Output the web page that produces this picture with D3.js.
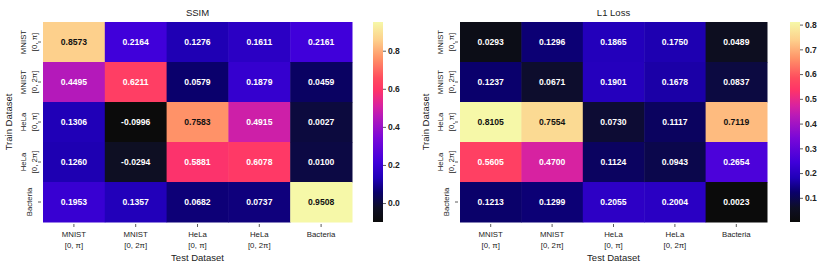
<!DOCTYPE html>
<html lang="en">
<head>
<meta charset="utf-8">
<title>SSIM / L1 Loss heatmaps</title>
<script src="https://d3js.org/d3.v7.min.js"></script>
<style>
  body { margin: 0; background: white; }
  svg { display: block; font-family: "Liberation Sans", Arial, sans-serif; }
</style>
</head>
<body>
<svg id="chart" width="830" height="270"></svg>
<script>
// labels
const trainLabels = [["MNIST", "[0, π]"], ["MNIST", "[0, 2π]"], ["HeLa", "[0, π]"], ["HeLa", "[0, 2π]"], ["Bacteria"]];
const testLabels = [["MNIST", "[0, π]"], ["MNIST", "[0, 2π]"], ["HeLa", "[0, π]"], ["HeLa", "[0, 2π]"], ["Bacteria"]];

// values, rows = train dataset, cols = test dataset
const ssimValues = [
  [0.8573, 0.2164, 0.1276, 0.1611, 0.2161],
  [0.4495, 0.6211, 0.0579, 0.1879, 0.0459],
  [0.1306, -0.0996, 0.7583, 0.4915, 0.0027],
  [0.1260, -0.0294, 0.5881, 0.6078, 0.0100],
  [0.1953, 0.1357, 0.0682, 0.0737, 0.9508]
];
const l1Values = [
  [0.0293, 0.1296, 0.1865, 0.1750, 0.0489],
  [0.1237, 0.0671, 0.1901, 0.1678, 0.0837],
  [0.8105, 0.7554, 0.0730, 0.1117, 0.7119],
  [0.5605, 0.4700, 0.1124, 0.0943, 0.2654],
  [0.1213, 0.1299, 0.2055, 0.2004, 0.0023]
];
const ssimTicks = [0.0, 0.2, 0.4, 0.6, 0.8];
const l1Ticks = [0.1, 0.2, 0.3, 0.4, 0.5, 0.6, 0.7, 0.8];

// colormap picked off the colorbar (position 0..1 -> colour)
const cmapStops = [0, 0.07, 0.1, 0.15, 0.22, 0.3, 0.42, 0.53, 0.58, 0.66, 0.72, 0.82, 0.91, 1];
const cmapColors = ["#0b0b0b", "#0e0f24", "#0c0a40", "#0a006c", "#2000b8", "#4000da", "#7a08d8",
  "#b81ab8", "#d822a0", "#ff3468", "#ff4c5e", "#ff9468", "#fdd08c", "#f6f8a8"];
const cmap = d3.scaleLinear().domain(cmapStops).range(cmapColors).interpolate(d3.interpolateRgb).clamp(true);

const svg = d3.select("#chart");

const textColor = c => {
  const rgb = d3.rgb(c);
  const lin = v => { v /= 255; return v <= 0.03928 ? v / 12.92 : Math.pow((v + 0.055) / 1.055, 2.4); };
  const lum = 0.2126 * lin(rgb.r) + 0.7152 * lin(rgb.g) + 0.0722 * lin(rgb.b);
  return lum > 0.408 ? "#111" : "#fff";
};

let gradId = 0;
function drawHeatmap(opts) {
  const { values, title, ticks, left, right, top, bottom, cbarX } = opts;
  const flat = values.flat();
  const vmin = d3.min(flat), vmax = d3.max(flat);
  const norm = d3.scaleLinear().domain([vmin, vmax]).range([0, 1]);
  const color = v => cmap(norm(v));

  const x = d3.scaleBand().domain(d3.range(testLabels.length)).range([left, right]);
  const y = d3.scaleBand().domain(d3.range(trainLabels.length)).range([top, bottom]);
  const g = svg.append("g");

  const cells = [];
  values.forEach((row, i) => row.forEach((v, j) => cells.push({ i, j, v })));

  g.selectAll("rect.cell").data(cells).enter().append("rect")
    .attr("class", "cell")
    .attr("x", d => x(d.j)).attr("y", d => y(d.i))
    .attr("width", x.bandwidth() + 0.5).attr("height", y.bandwidth() + 0.5)
    .attr("fill", d => color(d.v));

  g.selectAll("text.annot").data(cells).enter().append("text")
    .attr("class", "annot")
    .attr("x", d => x(d.j) + x.bandwidth() / 2)
    .attr("y", d => y(d.i) + y.bandwidth() / 2)
    .attr("text-anchor", "middle").attr("dominant-baseline", "central")
    .attr("font-size", 8.6).attr("font-weight", "bold")
    .attr("fill", d => textColor(color(d.v)))
    .text(d => d.v.toFixed(4));

  // title
  g.append("text").attr("x", (left + right) / 2).attr("y", 16)
    .attr("text-anchor", "middle").attr("font-size", 9.5).attr("fill", "#222").text(title);

  // x ticks
  const xt = g.selectAll("g.xt").data(testLabels).enter().append("g")
    .attr("transform", (d, j) => `translate(${x(j) + x.bandwidth() / 2},${bottom})`);
  xt.append("line").attr("y1", 2).attr("y2", 5).attr("stroke", "#333").attr("stroke-width", 0.8);
  xt.append("text").attr("text-anchor", "middle").attr("font-size", 7.8).attr("fill", "#222")
    .selectAll("tspan").data(d => d).enter().append("tspan")
    .attr("x", 0).attr("y", (d, k) => 15 + k * 10.5).text(d => d);
  g.append("text").attr("x", (left + right) / 2).attr("y", 261)
    .attr("text-anchor", "middle").attr("font-size", 9.5).attr("fill", "#222").text("Test Dataset");

  // y ticks
  const yt = g.selectAll("g.yt").data(trainLabels).enter().append("g")
    .attr("transform", (d, i) => `translate(${left},${y(i) + y.bandwidth() / 2})`);
  yt.append("line").attr("x1", -2).attr("x2", -5).attr("stroke", "#333").attr("stroke-width", 0.8);
  yt.append("text")
    .attr("transform", d => `translate(${d.length > 1 ? -17 : -11},0) rotate(-90)`)
    .attr("text-anchor", "middle").attr("font-size", 7.8).attr("fill", "#222")
    .selectAll("tspan").data(d => d).enter().append("tspan")
    .attr("x", 0).attr("y", (d, k) => k * 10.5).text(d => d);
  g.append("text").attr("transform", `translate(${left - 31},${(top + bottom) / 2}) rotate(-90)`)
    .attr("text-anchor", "middle").attr("font-size", 9.5).attr("fill", "#222").text("Train Dataset");

  // colorbar
  const id = "grad" + (gradId++);
  const grad = svg.append("defs").append("linearGradient").attr("id", id)
    .attr("x1", 0).attr("y1", 1).attr("x2", 0).attr("y2", 0);
  grad.selectAll("stop").data(cmapStops).enter().append("stop")
    .attr("offset", d => d).attr("stop-color", (d, k) => cmapColors[k]);
  const cbarW = 10;
  g.append("rect").attr("x", cbarX).attr("y", top).attr("width", cbarW).attr("height", bottom - top)
    .attr("fill", `url(#${id})`);
  const cy = d3.scaleLinear().domain([vmin, vmax]).range([bottom, top]);
  const cAxis = d3.axisRight(cy).tickValues(ticks).tickFormat(d3.format(".1f")).tickSize(3).tickPadding(2);
  const ca = g.append("g").attr("transform", `translate(${cbarX + cbarW},0)`).call(cAxis);
  ca.select(".domain").remove();
  ca.selectAll("line").attr("stroke", "#333").attr("stroke-width", 0.8);
  ca.selectAll("text").attr("font-size", 8.5).attr("font-weight", "bold").attr("fill", "#222")
    .attr("font-family", "Liberation Sans, Arial, sans-serif");
}

drawHeatmap({ values: ssimValues, title: "SSIM", ticks: ssimTicks, left: 43, right: 352, top: 22, bottom: 222, cbarX: 373 });
drawHeatmap({ values: l1Values, title: "L1 Loss", ticks: l1Ticks, left: 460, right: 767, top: 22, bottom: 222, cbarX: 790 });
</script>
</body>
</html>
